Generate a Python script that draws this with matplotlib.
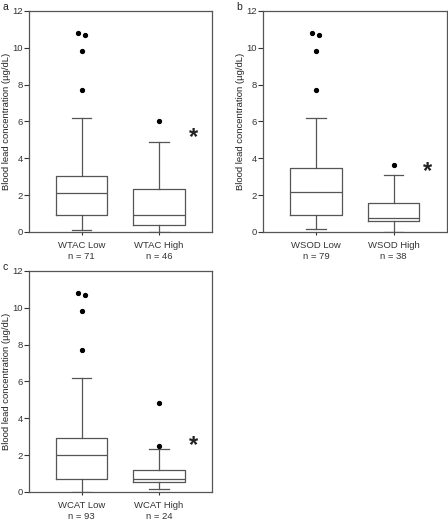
import matplotlib
matplotlib.use("Agg")
import matplotlib.pyplot as plt

plt.rcParams["font.family"] = ["Liberation Sans", "DejaVu Sans"]

# box statistics (µg/dL)
groups_a = ["WTAC Low", "WTAC High"]
n_a = [71, 46]
whislo_a = [0.09, 0.0]
q1_a = [0.9, 0.4]
med_a = [2.1, 0.91]
q3_a = [3.03, 2.31]
whishi_a = [6.2, 4.89]
fliers_a = [[10.78, 10.71, 9.84, 7.7], [6.02]]
star_a = 5.15

groups_b = ["WSOD Low", "WSOD High"]
n_b = [79, 38]
whislo_b = [0.18, 0.0]
q1_b = [0.91, 0.6]
med_b = [2.18, 0.78]
q3_b = [3.45, 1.55]
whishi_b = [6.2, 3.09]
fliers_b = [[10.78, 10.71, 9.84, 7.7], [3.62]]
star_b = 3.27

groups_c = ["WCAT Low", "WCAT High"]
n_c = [93, 24]
whislo_c = [0.0, 0.18]
q1_c = [0.73, 0.55]
med_c = [2.0, 0.69]
q3_c = [2.95, 1.22]
whishi_c = [6.2, 2.31]
fliers_c = [[10.78, 10.71, 9.84, 7.7], [4.85, 2.49]]
star_c = 2.5

GREY = "#555555"
FS = 6.8


def draw_panel(ax, letter, groups, n, whislo, q1, med, q3, whishi, fliers, star):
    stats = []
    for i in range(len(groups)):
        stats.append(dict(whislo=whislo[i], q1=q1[i], med=med[i], q3=q3[i],
                          whishi=whishi[i], fliers=[]))
    pos = [1, 2]
    ax.bxp(stats, positions=pos, widths=0.66, showfliers=False,
           boxprops=dict(color=GREY, lw=0.9),
           medianprops=dict(color=GREY, lw=0.9),
           whiskerprops=dict(color=GREY, lw=0.9),
           capprops=dict(color=GREY, lw=0.9),
           capwidths=0.25)

    # outliers, nudged sideways when two nearly coincide
    for p, fl in zip(pos, fliers):
        for j, v in enumerate(fl):
            dx = 0.0
            for k, w in enumerate(fl):
                if k != j and abs(v - w) < 0.2:
                    dx = -0.045 if v > w else 0.045
            ax.plot(p + dx, v, "o", color="black", ms=2.8, clip_on=False)

    ax.text(2.44, star, "*", ha="center", va="center", fontsize=17,
            fontweight="bold", color="#222222")

    ax.set_xlim(0.32, 2.685)
    ax.set_ylim(0, 12)
    ax.set_yticks([0, 2, 4, 6, 8, 10, 12])
    ax.set_xticks(pos)
    ax.set_xticklabels([f"{g}\nn = {m}" for g, m in zip(groups, n)],
                       fontsize=FS, linespacing=1.35)
    ax.tick_params(axis="y", labelsize=FS, length=3.5, width=0.8,
                   colors="#333333", pad=1.0)
    ax.tick_params(axis="x", length=2.5, width=0.8, colors="#333333", pad=4)
    for s in ax.spines.values():
        s.set_color(GREY)
        s.set_linewidth(0.9)
    ax.set_ylabel("Blood lead concentration (µg/dL)", fontsize=FS,
                  color="#222222", labelpad=0.5)
    ax.text(-0.13, 1.02, letter, transform=ax.transAxes, fontsize=7.5,
            ha="center", va="center", color="#222222")


fig = plt.figure(figsize=(4.48, 5.22), dpi=100)
ax_a = fig.add_axes([0.0647, 0.5556, 0.4085, 0.4234])
ax_b = fig.add_axes([0.587, 0.5556, 0.4107, 0.4234])
ax_c = fig.add_axes([0.0647, 0.0575, 0.4085, 0.4234])

draw_panel(ax_a, "a", groups_a, n_a, whislo_a, q1_a, med_a, q3_a, whishi_a, fliers_a, star_a)
draw_panel(ax_b, "b", groups_b, n_b, whislo_b, q1_b, med_b, q3_b, whishi_b, fliers_b, star_b)
draw_panel(ax_c, "c", groups_c, n_c, whislo_c, q1_c, med_c, q3_c, whishi_c, fliers_c, star_c)

fig.savefig("out.png", dpi=100, facecolor="white")
